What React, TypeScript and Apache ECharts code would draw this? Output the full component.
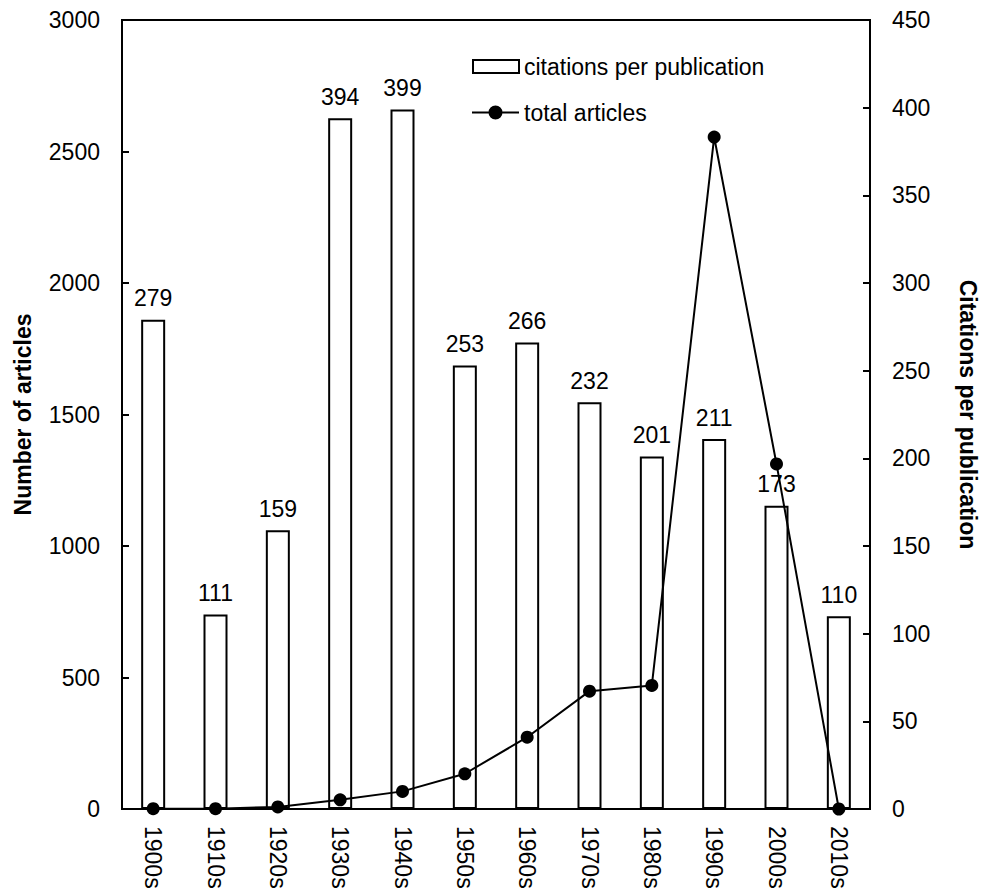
import React, { useEffect, useRef } from "react";
import * as echarts from "echarts";

const categories = ["1900s", "1910s", "1920s", "1930s", "1940s", "1950s", "1960s", "1970s", "1980s", "1990s", "2000s", "2010s"];
const citationsPerPublication = [279, 111, 159, 394, 399, 253, 266, 232, 201, 211, 173, 110];
const totalArticles = [1, 1, 8, 35, 67, 134, 273, 448, 470, 2555, 1312, 0];

const FONT = "'Liberation Sans', Arial, Helvetica, sans-serif";
const LINE_DOT_ICON = "path://M0,7h17v2h-17z M30,7h17v2h-17z M23.5,1a7,7 0 1,1 0,14a7,7 0 1,1 0,-14z";

export default function App() {
  const ref = useRef<HTMLDivElement>(null);
  useEffect(() => {
    if (!ref.current) return;
    const chart = echarts.init(ref.current, null, { renderer: "svg" });
    chart.setOption({
      animation: false,
      backgroundColor: "#ffffff",
      textStyle: { fontFamily: FONT, color: "#000" },
      grid: {
        left: 122,
        right: 112,
        top: 20,
        bottom: 79,
        containLabel: false,
        outerBoundsMode: "none",
        show: true,
        borderColor: "#000",
        borderWidth: 2,
        backgroundColor: "transparent",
      },
      legend: [
        {
          data: [
            {
              name: "citations per publication",
              icon: "rect",
              itemStyle: { color: "#fff", borderColor: "#000", borderWidth: 2 },
            },
          ],
          left: 467,
          top: 50,
          itemWidth: 46,
          itemHeight: 13,
          itemGap: 5,
          textStyle: { fontSize: 23, color: "#000", fontFamily: FONT },
        },
        {
          data: [{ name: "total articles", icon: LINE_DOT_ICON, itemStyle: { color: "#000" } }],
          left: 467,
          top: 96,
          itemWidth: 47,
          itemHeight: 16,
          textStyle: { fontSize: 23, color: "#000", fontFamily: FONT },
        },
      ],
      xAxis: {
        type: "category",
        data: categories,
        boundaryGap: true,
        axisLine: { show: true, lineStyle: { color: "#000", width: 2 } },
        axisTick: { show: false },
        axisLabel: { rotate: -90, fontSize: 23, color: "#000", margin: 17, fontFamily: FONT, interval: 0 },
        splitLine: { show: false },
      },
      yAxis: [
        {
          type: "value",
          min: 0,
          max: 3000,
          interval: 500,
          position: "left",
          name: "Number of articles",
          nameLocation: "middle",
          nameGap: 88,
          nameRotate: 90,
          nameTextStyle: { fontSize: 23, fontWeight: "bold", color: "#000", fontFamily: FONT },
          axisLine: { show: true, lineStyle: { color: "#000", width: 2 } },
          axisTick: { show: true, inside: true, length: 7, lineStyle: { color: "#000", width: 2 } },
          axisLabel: { fontSize: 23, color: "#000", margin: 22, fontFamily: FONT, formatter: (v: number) => String(v) },
          splitLine: { show: false },
        },
        {
          type: "value",
          min: 0,
          max: 450,
          interval: 50,
          position: "right",
          name: "Citations per publication",
          nameLocation: "middle",
          nameGap: 86,
          nameRotate: -90,
          nameTextStyle: { fontSize: 23, fontWeight: "bold", color: "#000", fontFamily: FONT },
          axisLine: { show: true, lineStyle: { color: "#000", width: 2 } },
          axisTick: { show: true, inside: true, length: 7, lineStyle: { color: "#000", width: 2 } },
          axisLabel: { fontSize: 23, color: "#000", margin: 22, fontFamily: FONT, formatter: (v: number) => String(v) },
          splitLine: { show: false },
        },
      ],
      series: [
        {
          name: "citations per publication",
          type: "bar",
          yAxisIndex: 1,
          data: citationsPerPublication,
          barWidth: 24,
          itemStyle: { color: "#ffffff", borderColor: "#000", borderWidth: 2 },
          label: {
            show: true,
            position: "top",
            distance: 10,
            fontSize: 23,
            color: "#000",
            fontFamily: FONT,
          },
          z: 2,
        },
        {
          name: "total articles",
          type: "line",
          yAxisIndex: 0,
          data: totalArticles,
          symbol: "circle",
          symbolSize: 13,
          lineStyle: { color: "#000", width: 2 },
          itemStyle: { color: "#000" },
          z: 3,
        },
      ],
    });
    return () => chart.dispose();
  }, []);
  return (
    <div
      ref={ref}
      style={{ position: "fixed", left: 0, top: 0, width: 982, height: 888, background: "#fff" }}
    />
  );
}
